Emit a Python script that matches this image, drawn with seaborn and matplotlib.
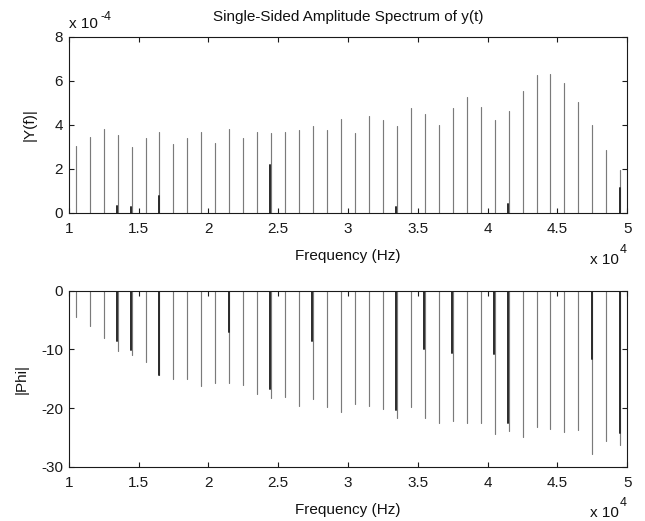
import numpy as np
import pandas as pd
import matplotlib
matplotlib.use("Agg")
import matplotlib.pyplot as plt
import seaborn as sns

# ---------------- data ----------------
freq_hz = [10500, 11500, 12500, 13500, 14500, 15500, 16500, 17500, 18500, 19500,
           20500, 21500, 22500, 23500, 24500, 25500, 26500, 27500, 28500, 29500,
           30500, 31500, 32500, 33500, 34500, 35500, 36500, 37500, 38500, 39500,
           40500, 41500, 42500, 43500, 44500, 45500, 46500, 47500, 48500, 49500]
amp_e4 = [3.05, 3.45, 3.80, 3.52, 2.98, 3.39, 3.68, 3.11, 3.39, 3.68,
          3.17, 3.80, 3.39, 3.68, 3.62, 3.68, 3.74, 3.92, 3.74, 4.27,
          3.62, 4.38, 4.21, 3.92, 4.74, 4.50, 3.97, 4.74, 5.26, 4.79,
          4.21, 4.62, 5.55, 6.24, 6.30, 5.89, 5.03, 3.97, 2.86, 1.94]
phase = [-4.5, -6.0, -8.0, -10.2, -11.0, -12.1, -14.3, -15.1, -15.1, -16.25,
         -15.8, -15.8, -16.0, -17.6, -18.35, -18.2, -19.7, -18.4, -19.9, -20.6,
         -19.3, -19.7, -20.2, -21.7, -19.9, -21.7, -22.6, -22.2, -22.6, -22.6,
         -24.5, -23.9, -24.9, -23.2, -23.5, -24.1, -23.7, -27.8, -25.6, -26.3]

# secondary (dark) stems
amp2_freq_hz = [13450, 14450, 16450, 24450, 33450, 41450, 49450]
amp2_e4 = [0.32, 0.26, 0.77, 2.18, 0.26, 0.38, 1.12]
phase2_freq_hz = [13450, 14450, 16450, 21450, 24450, 27450, 33450, 35450,
                  37450, 40450, 41450, 47450, 49450]
phase2 = [-8.6, -10.1, -14.3, -7.05, -16.8, -8.6, -20.3, -9.9,
          -10.6, -10.8, -22.5, -11.6, -24.3]

x_ticks = [1, 1.5, 2, 2.5, 3, 3.5, 4, 4.5, 5]
x_tick_labels = ["1", "1.5", "2", "2.5", "3", "3.5", "4", "4.5", "5"]
amp_ticks = [0, 2, 4, 6, 8]
phase_ticks = [-30, -20, -10, 0]

X_SCALE = 1e4

# ---------------- style ----------------
sns.set_theme(style="ticks")
plt.rcParams["font.family"] = ["Liberation Sans", "DejaVu Sans"]
plt.rcParams.update({
    "axes.edgecolor": "#1a1a1a",
    "axes.linewidth": 0.8,
    "xtick.direction": "in",
    "ytick.direction": "in",
    "xtick.top": True,
    "ytick.right": True,
    "xtick.major.size": 3.8,
    "ytick.major.size": 3.8,
    "xtick.major.width": 0.8,
    "ytick.major.width": 0.8,
    "xtick.color": "#1a1a1a",
    "ytick.color": "#1a1a1a",
    "text.color": "#111111",
    "axes.labelcolor": "#111111",
})

FS = 11
SUP = 9
GRAY = "#7a7a7a"
DARK = "#2a2a2a"


def stem_frame(xs, ys):
    rows = []
    for i, (x, y) in enumerate(zip(xs, ys)):
        rows.append({"x": x / X_SCALE, "y": 0.0, "id": i})
        rows.append({"x": x / X_SCALE, "y": y, "id": i})
    return pd.DataFrame(rows)


fig = plt.figure(figsize=(6.45, 5.21), dpi=100)
W, H = 645.0, 521.0
left, right = 68.7, 627.3
ax1 = fig.add_axes([left / W, 1 - 212.7 / H, (right - left) / W, 176 / H])
ax2 = fig.add_axes([left / W, 1 - 466.7 / H, (right - left) / W, 176 / H])


def ptext(x, y, s, **kw):
    """Text placed in figure pixel coordinates (from top-left)."""
    fig.text(x / W, 1 - y / H, s, **kw)


for ax, (fx, fy), (gx, gy) in [
    (ax1, (freq_hz, amp_e4), (amp2_freq_hz, amp2_e4)),
    (ax2, (freq_hz, phase), (phase2_freq_hz, phase2)),
]:
    sns.lineplot(data=stem_frame(fx, fy), x="x", y="y", units="id",
                 estimator=None, color=GRAY, linewidth=0.85, ax=ax,
                 legend=False)
    sns.lineplot(data=stem_frame(gx, gy), x="x", y="y", units="id",
                 estimator=None, color=DARK, linewidth=1.4, ax=ax,
                 legend=False)
    ax.set_xlim(1, 5)
    ax.set_xticks(x_ticks)
    ax.set_xticklabels(x_tick_labels)
    ax.tick_params(labelsize=FS, pad=7.0, axis="x")
    ax.tick_params(labelsize=FS, pad=4.0, axis="y")
    ax.set_xlabel("Frequency (Hz)", fontsize=FS)
    ax.xaxis.set_label_coords(0.5, -0.205)
    for s in ax.spines.values():
        s.set_visible(True)

ax1.set_ylim(0, 8)
ax1.set_yticks(amp_ticks)
ax1.set_yticklabels([str(t) for t in amp_ticks])
ax1.set_ylabel("|Y(f)|", fontsize=FS)
ax1.yaxis.set_label_coords(-0.057, 0.5)
ax1.set_title("Single-Sided Amplitude Spectrum of y(t)", fontsize=FS, pad=11.0)

ax2.set_ylim(-30, 0)
ax2.set_yticks(phase_ticks)
ax2.set_yticklabels([str(t) for t in phase_ticks])
ax2.set_ylabel("|Phi|", fontsize=FS)
ax2.yaxis.set_label_coords(-0.072, 0.5)

# exponent annotations (MATLAB style)
ptext(69, 28.3, "x 10", ha="left", va="baseline", fontsize=FS)
ptext(100.5, 20.5, "-4", ha="left", va="baseline", fontsize=SUP)
for base in (264.0, 517.0):
    ptext(618.5, base, "x 10", ha="right", va="baseline", fontsize=FS)
    ptext(619.5, base - 11.0, "4", ha="left", va="baseline", fontsize=SUP)

fig.savefig("out.png", dpi=100, facecolor="white")
